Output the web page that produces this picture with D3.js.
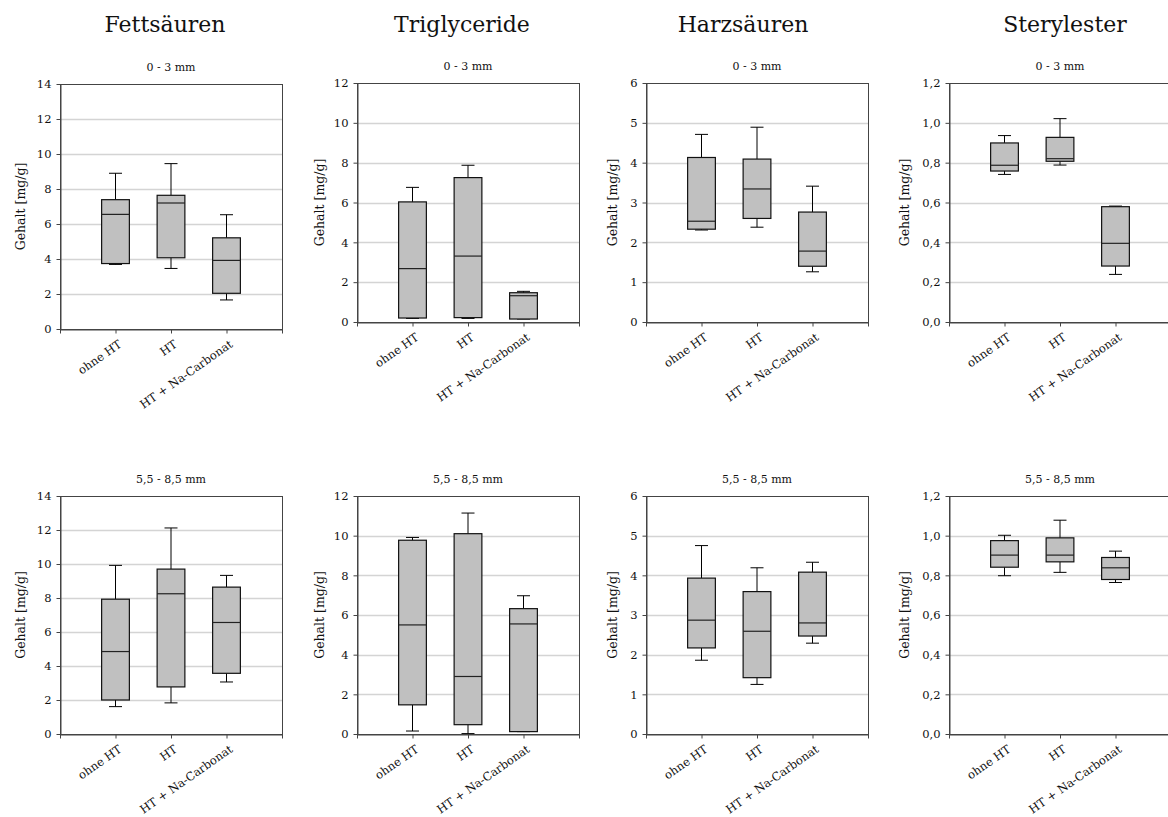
<!DOCTYPE html>
<html>
<head>
<meta charset="utf-8">
<script src="https://d3js.org/d3.v7.min.js"></script>
<style>
  body { margin: 0; background: #fff; }
  text { font-family: 'DejaVu Serif', serif; fill: #111; }
</style>
</head>
<body>
<div id="chart"></div>
<script>
// Categories and titles
let categories = ['ohne HT', 'HT', 'HT + Na-Carbonat']
let substances = ['Fettsäuren', 'Triglyceride', 'Harzsäuren', 'Sterylester']
let depths = ['0 - 3 mm', '5,5 - 8,5 mm']

// y axis range per substance
let yMax = [14, 12, 6, 1.2]
let yStep = [2, 2, 1, 0.2]

// Box stats per category: [min, q1, median, q3, max]
let fett03 = [[3.69, 3.74, 6.55, 7.39, 8.9], [3.46, 4.07, 7.2, 7.64, 9.45], [1.66, 2.04, 3.92, 5.21, 6.53]]
let trig03 = [[0.18, 0.2, 2.68, 6.03, 6.76], [0.18, 0.22, 3.31, 7.25, 7.87], [0.15, 0.15, 1.32, 1.47, 1.54]]
let harz03 = [[2.31, 2.33, 2.53, 4.13, 4.71], [2.38, 2.6, 3.34, 4.09, 4.89], [1.26, 1.4, 1.78, 2.76, 3.41]]
let ster03 = [[0.741, 0.758, 0.787, 0.899, 0.936], [0.788, 0.807, 0.82, 0.927, 1.021], [0.239, 0.281, 0.395, 0.579, 0.582]]

let fett55 = [[1.61, 2.0, 4.85, 7.93, 9.92], [1.83, 2.77, 8.25, 9.7, 12.12], [3.06, 3.57, 6.56, 8.64, 9.33]]
let trig55 = [[0.15, 1.47, 5.5, 9.77, 9.91], [0.02, 0.47, 2.9, 10.1, 11.14], [0.12, 0.12, 5.55, 6.32, 6.97]]
let harz55 = [[1.86, 2.17, 2.87, 3.93, 4.75], [1.25, 1.42, 2.59, 3.59, 4.19], [2.29, 2.47, 2.8, 4.08, 4.33]]
let ster55 = [[0.798, 0.841, 0.902, 0.975, 1.002], [0.815, 0.868, 0.902, 0.989, 1.078], [0.764, 0.779, 0.838, 0.89, 0.922]]

let rowData = [[fett03, trig03, harz03, ster03], [fett55, trig55, harz55, ster55]]

// Layout
let svgW = 1168, svgH = 817
let colLeft = [60, 357, 646, 949]
let plotW = 222
let titleX = [165, 462, 743, 1065]
let yLabelOffset = [39, 37, 33, 44]
let rowFrames = [
  [{y: 84, h: 245}, {y: 83, h: 239}, {y: 83, h: 239}, {y: 83, h: 239}],
  [{y: 496, h: 238}, {y: 496, h: 238}, {y: 496, h: 238}, {y: 496, h: 238}]
]

let de = d3.formatLocale({decimal: ',', thousands: '.', grouping: [3], currency: ['', ' €']})

let svg = d3.select('#chart')
  .append('svg')
  .attr('width', svgW)
  .attr('height', svgH)

svg.append('rect').attr('width', svgW).attr('height', svgH).attr('fill', '#fff')

// Substance titles
svg.selectAll('.title')
  .data(substances)
  .enter().append('text')
  .attr('class', 'title')
  .attr('x', (d, i) => titleX[i])
  .attr('y', 32)
  .attr('text-anchor', 'middle')
  .style('font-size', '22px')
  .text(d => d)

rowData.forEach(function(row, r) {
  row.forEach(function(stats, c) {
    drawPanel(stats, c, r)
  })
})

function drawPanel(stats, c, r) {
  let fr = rowFrames[r][c]
  let x0 = colLeft[c], y0 = fr.y, w = plotW, h = fr.h
  let g = svg.append('g').attr('transform', `translate(${x0},${y0})`)

  let x = d3.scaleLinear().domain([0, categories.length + 1]).range([0, w])
  let y = d3.scaleLinear().domain([0, yMax[c]]).range([h, 0])
  let nTicks = Math.round(yMax[c] / yStep[c])
  let tickVals = d3.range(nTicks + 1).map(i => +(i * yStep[c]).toFixed(3))
  let fmt = yStep[c] < 1 ? de.format('.1f') : de.format('d')

  // subtitle
  g.append('text')
    .attr('x', w / 2)
    .attr('y', -13)
    .attr('text-anchor', 'middle')
    .style('font-size', '11px')
    .text(depths[r])

  // gridlines
  g.append('g')
    .selectAll('line')
    .data(tickVals.slice(1, -1))
    .enter().append('line')
    .attr('x1', 0)
    .attr('x2', w)
    .attr('y1', d => Math.round(y(d)) + 0.5)
    .attr('y2', d => Math.round(y(d)) + 0.5)
    .style('stroke', '#d4d4d4')
    .style('stroke-width', 1.3)

  let boxW = (x(1) - x(0)) / 2
  let capW = 13

  let boxes = g.append('g')
    .selectAll('g')
    .data(stats)
    .enter().append('g')
    .attr('transform', (d, i) => `translate(${x(i + 1)},0)`)

  // whiskers
  boxes.append('line')
    .attr('y1', d => y(d[0])).attr('y2', d => y(d[1]))
    .style('stroke', '#000')
  boxes.append('line')
    .attr('y1', d => y(d[3])).attr('y2', d => y(d[4]))
    .style('stroke', '#000')
  boxes.append('line')
    .attr('x1', -capW / 2).attr('x2', capW / 2)
    .attr('y1', d => y(d[0])).attr('y2', d => y(d[0]))
    .style('stroke', '#000')
  boxes.append('line')
    .attr('x1', -capW / 2).attr('x2', capW / 2)
    .attr('y1', d => y(d[4])).attr('y2', d => y(d[4]))
    .style('stroke', '#000')

  // box
  boxes.append('rect')
    .attr('x', -boxW / 2)
    .attr('width', boxW)
    .attr('y', d => y(d[3]))
    .attr('height', d => y(d[1]) - y(d[3]))
    .style('fill', '#c0c0c0')
    .style('stroke', '#111')
    .style('stroke-width', 1.2)

  // median
  boxes.append('line')
    .attr('x1', -boxW / 2).attr('x2', boxW / 2)
    .attr('y1', d => y(d[2])).attr('y2', d => y(d[2]))
    .style('stroke', '#222')
    .style('stroke-width', 1.2)

  // frame
  g.append('rect')
    .attr('x', 0.5).attr('y', 0.5)
    .attr('width', w).attr('height', h)
    .style('fill', 'none')
    .style('stroke', '#444')

  // y axis
  let yAxis = d3.axisLeft(y)
    .tickValues(tickVals)
    .tickSize(4)
    .tickSizeOuter(0)
    .tickPadding(5)
    .tickFormat(fmt)
  let ya = g.append('g')
    .attr('transform', 'translate(0.5,0)')
    .call(yAxis)
  ya.select('.domain').style('stroke', '#444')
  ya.selectAll('.tick line').style('stroke', '#444')
  ya.selectAll('text').style('font-size', '11.5px').style('font-family', "'DejaVu Serif', serif").attr('fill', '#111')

  // x axis
  let xAxis = d3.axisBottom(x)
    .tickValues(d3.range(categories.length + 2))
    .tickSize(4)
    .tickSizeOuter(0)
    .tickFormat('')
  let xa = g.append('g')
    .attr('transform', `translate(0,${h + 0.5})`)
    .call(xAxis)
  xa.select('.domain').style('stroke', '#444')
  xa.selectAll('.tick line').style('stroke', '#444')

  // rotated category labels
  g.selectAll('.cat')
    .data(categories)
    .enter().append('text')
    .attr('class', 'cat')
    .attr('text-anchor', 'end')
    .attr('transform', (d, i) => `translate(${x(i + 1) + 7},${h + 17}) rotate(-35)`)
    .style('font-size', '11.5px')
    .text(d => d)

  // y label
  g.append('text')
    .attr('transform', `translate(${-yLabelOffset[c]},${h / 2}) rotate(-90)`)
    .attr('text-anchor', 'middle')
    .attr('dy', '0.35em')
    .style('font-size', '12.5px')
    .text('Gehalt [mg/g]')
}
</script>
</body>
</html>
